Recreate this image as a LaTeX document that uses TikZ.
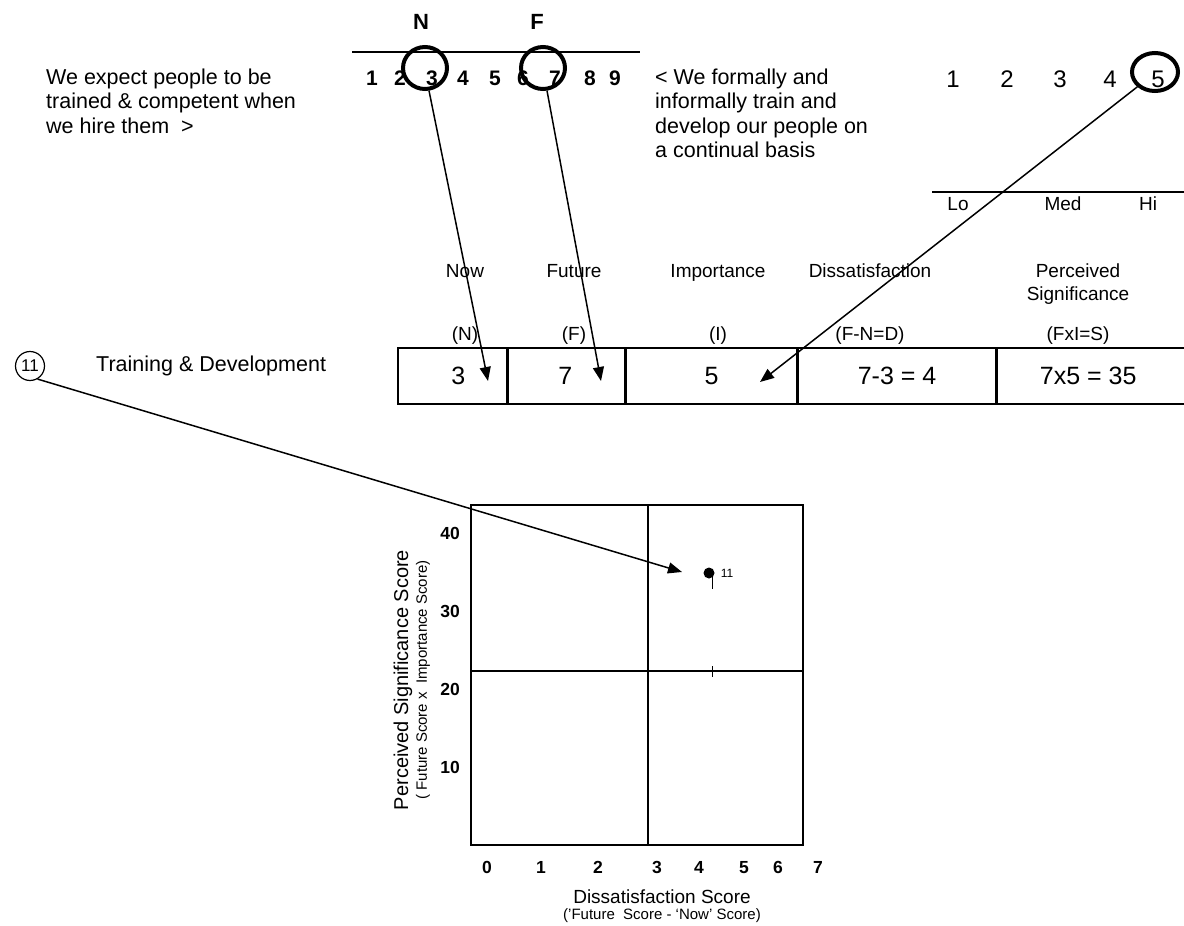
\documentclass[tikz,border=0pt]{standalone}
\usepackage{fontspec}
\setmainfont{Liberation Sans}
\usetikzlibrary{arrows.meta,calc,positioning,shapes.geometric}

\begin{document}
\begin{tikzpicture}[x=1pt, y=-1pt,
		txt/.style = {font=\fontsize{21.5}{24.5}\selectfont, inner sep=0pt, align=left},
		hdr/.style = {font=\fontsize{19}{23}\selectfont, inner sep=0pt, align=center, anchor=base},
		digit/.style = {font=\bfseries\fontsize{21}{24}\selectfont, inner sep=0pt, anchor=base},
		ring/.style = {draw, ellipse, line width=4pt, minimum width=44pt, minimum height=42pt, inner sep=0pt},
		cell/.style = {draw, line width=1.6pt, minimum height=56pt, inner sep=0pt},
		val/.style = {font=\fontsize{25}{26}\selectfont, inner sep=0pt},
		axnum/.style = {font=\bfseries\fontsize{17.5}{19}\selectfont, inner sep=0pt, anchor=base},
		pointer/.style = {line width=1.5pt, -{Triangle[length=14pt,width=11pt]}}, ]
	\useasboundingbox (0,0) rectangle (1184,926);

	\node [txt, anchor=base west] (lowend) at (46,84) {We expect people to be};
	\node [txt, anchor=base west] at (46,108.5) {trained \& competent when};
	\node [txt, anchor=base west] at (46,133) {we hire them \ >};
	\foreach \t [count=\i] in {< We formally and, informally train and, develop our people on, a continual basis}
		\node [txt, anchor=base west] (high\i) at (655,59.5+24.5*\i) {\t};

	\draw [line width=1.5pt] (352,52) -- (640,52);
	\node [font=\bfseries\fontsize{22}{24}\selectfont] (nlbl) at (421,22) {N};
	\node [font=\bfseries\fontsize{22}{24}\selectfont] (flbl) at (537,22) {F};
	\foreach \d/\x in {1/372,2/400,3/432,4/463,5/495,6/523,7/555,8/590,9/615}
		\node [digit] (sc\d) at (\x,85) {\d};
	\node [ring] (ringN) at (425,68) {};
	\node [ring] (ringF) at (543,68) {};

	\foreach \d/\x in {1/953,2/1007,3/1060,4/1110,5/1158}
		\node [digit, font=\fontsize{24}{26}\selectfont] (im\d) at (\x,87) {\d};
	\node [ring, minimum width=46pt, minimum height=38pt] (ringI) at (1155,72) {};
	\draw [line width=1.5pt] (932,192) -- (1184,192);
	\node [digit, font=\fontsize{19}{20}\selectfont] (lo) at (958,210) {Lo};
	\node [digit, font=\fontsize{19}{20}\selectfont] (med) at (1063,210) {Med};
	\node [digit, font=\fontsize{19}{20}\selectfont] (hi) at (1148,210) {Hi};

	\node [hdr] (hN) at (465,277) {Now};
	\node [hdr] (hF) at (574,277) {Future};
	\node [hdr] (hI) at (718,277) {Importance};
	\node [hdr] (hD) at (870,277) {Dissatisfaction};
	\node [hdr] (hS) at (1078,300) {Perceived\\Significance};
	\node [hdr] (sN) at (465,340) {(N)};
	\node [hdr] (sF) at (574,340) {(F)};
	\node [hdr] (sI) at (718,340) {(I)};
	\node [hdr] (sD) at (870,340) {(F-N=D)};
	\node [hdr] (sS) at (1078,340) {(FxI=S)};

	\node [draw, circle, line width=1.2pt, inner sep=1pt, minimum size=29pt, font=\fontsize{17}{18}\selectfont] (item) at (30,366) {11};
	\node [txt, anchor=west] (itemname) at (96,366) {Training \& Development};
	\node [cell, minimum width=109pt, anchor=west] (cN) at (397,376) {};
	\node [cell, minimum width=116pt, right=0pt of cN] (cF) {};
	\node [cell, minimum width=171pt, right=0pt of cF] (cI) {};
	\node [cell, minimum width=197pt, right=0pt of cI] (cD) {};
	\node [cell, minimum width=190pt, right=0pt of cD] (cS) {};
	\node [val] (vN) at ($(cN)+(6,0)$) {3};
	\node [val] (vF) at ($(cF)+(-1,0)$) {7};
	\node [val] (vI) at (cI) {5};
	\node [val] (vD) at (cD) {7-3 = 4};
	\node [val] (vS) at ($(cS)+(-4,0)$) {7x5 = 35};
	\coordinate (nowTip) at (488,381);
	\coordinate (futTip) at (601,381);
	\coordinate (impTip) at (760,382);

	\draw [pointer] (ringN.-80) -- (nowTip);
	\draw [pointer] (ringF.-80) -- (futTip);
	\draw [pointer] (ringI.-140) -- (impTip);

	\draw [line width=1.6pt] (471,505) rectangle (803,845);
	\draw [line width=1.4pt] (648,505) -- (648,845);
	\draw [line width=1.4pt] (471,671) -- (803,671);
	\foreach \v/\y in {40/539,30/617,20/695,10/773}
		\node [axnum] (ytick\v) at (450,\y) {\v};
	\foreach \v/\x in {0/487,1/541,2/598,3/657,4/699,5/744,6/778,7/818}
		\node [axnum] (xtick\v) at (\x,873) {\v};
	\node [font=\fontsize{20}{21}\selectfont, rotate=90, inner sep=0pt] (ytitle) at (403,680) {Perceived Significance Score};
	\node [font=\fontsize{15}{16}\selectfont, rotate=90, inner sep=0pt] (ysub) at (423,680) {( Future Score x \ Importance Score)};
	\node [font=\fontsize{19}{20}\selectfont, inner sep=0pt] (xtitle) at (662,897) {Dissatisfaction Score};
	\node [font=\fontsize{15}{16}\selectfont, inner sep=0pt] (xsub) at (662,916) {('Future \ Score - `Now' Score)};

	\node [circle, fill, inner sep=0pt, minimum size=11pt] (pt) at (709,573) {};
	\node [font=\fontsize{12}{13}\selectfont, inner sep=0pt, right=6pt of pt] (ptlbl) {11};
	\draw [line width=1pt] (712,577) -- (712,589);
	\draw [line width=1pt] (712,666) -- (712,677);
	\coordinate (ptTip) at (682,572);
	\draw [pointer] (item.-60) -- (ptTip);
\end{tikzpicture}
\end{document}
